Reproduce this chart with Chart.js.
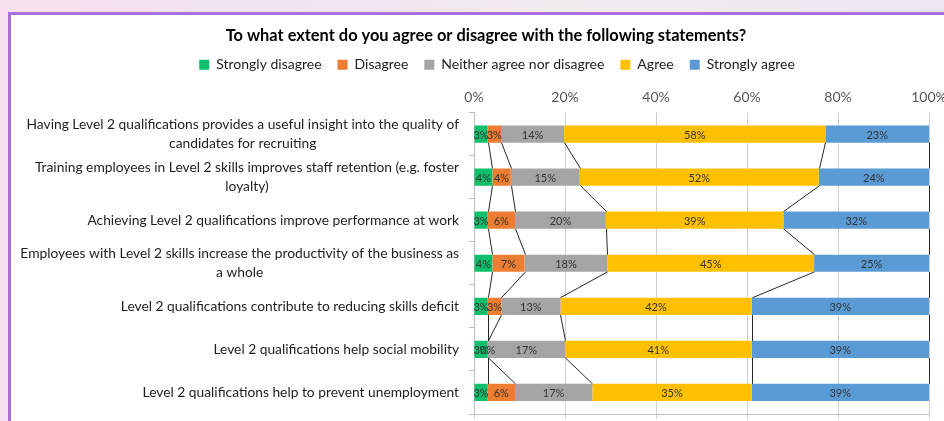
<!DOCTYPE html>
<html>
<head>
<meta charset="utf-8">
<script src="https://cdn.jsdelivr.net/npm/chart.js@4.4.1/dist/chart.umd.min.js"></script>
<style>
    html, body { margin: 0; padding: 0; }
    body {
        width: 944px;
        height: 421px;
        overflow: hidden;
        position: relative;
        background: linear-gradient(100deg, #f8e0ee 0%, #efe4f3 30%, #f3ecef 55%, #ece4f4 100%);
    }
    .card {
        position: absolute;
        left: 8px;
        top: 12px;
        width: 1000px;
        height: 500px;
        background: #fff;
        border: 3px solid #a86fdd;
    }
    .chart-box {
        position: absolute;
        left: 11px;
        top: 15px;
        width: 950px;
        height: 406px;
    }
</style>
</head>
<body>
<div class="card"></div>
<div class="chart-box"><canvas id="surveyChart"></canvas></div>
<script>
// Survey responses per statement (percent of respondents)
const categories = [
    ['Having Level 2 qualifications provides a useful insight into the quality of', 'candidates for recruiting'],
    ['Training employees in Level 2 skills improves staff retention (e.g. foster', 'loyalty)'],
    'Achieving Level 2 qualifications improve performance at work',
    ['Employees with Level 2 skills increase the productivity of the business as', 'a whole'],
    'Level 2 qualifications contribute to reducing skills deficit',
    'Level 2 qualifications help social mobility',
    'Level 2 qualifications help to prevent unemployment'
];
const seriesNames = ['Strongly disagree', 'Disagree', 'Neither agree nor disagree', 'Agree', 'Strongly agree'];
const stronglyDisagree = [3, 4, 3, 4, 3, 3, 3];
const disagree = [3, 4, 6, 7, 3, 0, 6];
const neither = [14, 15, 20, 18, 13, 17, 17];
const agree = [58, 52, 39, 45, 42, 41, 35];
const stronglyAgree = [23, 24, 32, 25, 39, 39, 39];
const percentTicks = [0, 20, 40, 60, 80, 100];
const colors = ['#0fbf6b', '#ed7d31', '#a5a5a5', '#ffc000', '#5b9bd5'];

const allSeries = [stronglyDisagree, disagree, neither, agree, stronglyAgree];

// rows don't always add up to exactly 100 because of rounding, so scale each to 100%
const rowTotals = categories.map((c, i) => allSeries.reduce((s, arr) => s + arr[i], 0));

const datasets = allSeries.map((arr, k) => ({
    label: seriesNames[k],
    data: arr.map((v, i) => v / rowTotals[i] * 100),
    raw: arr,
    backgroundColor: colors[k],
    borderWidth: 0,
    barPercentage: 0.4,
    categoryPercentage: 1
}));

// lines joining the segment ends of neighbouring bars
const seriesLines = {
    id: 'seriesLines',
    afterDatasetsDraw(chart) {
        const ctx = chart.ctx;
        ctx.save();
        ctx.strokeStyle = '#262626';
        ctx.lineWidth = 1;
        chart.data.datasets.forEach((ds, k) => {
            const bars = chart.getDatasetMeta(k).data;
            for (let i = 0; i < bars.length - 1; i++) {
                const a = bars[i], b = bars[i + 1];
                ctx.beginPath();
                ctx.moveTo(Math.round(a.x) + 0.5, a.y + a.height / 2);
                ctx.lineTo(Math.round(b.x) + 0.5, b.y - b.height / 2);
                ctx.stroke();
            }
        });
        ctx.restore();
    }
};

// value labels in the middle of each segment
const segmentLabels = {
    id: 'segmentLabels',
    afterDatasetsDraw(chart) {
        const ctx = chart.ctx;
        ctx.save();
        ctx.font = '11px Lato';
        ctx.fillStyle = '#333333';
        ctx.textAlign = 'center';
        ctx.textBaseline = 'middle';
        chart.data.datasets.forEach((ds, k) => {
            chart.getDatasetMeta(k).data.forEach((bar, i) => {
                ctx.fillText(ds.raw[i] + '%', (bar.x + bar.base) / 2, bar.y + 1);
            });
        });
        ctx.restore();
    }
};

// statement labels: block right aligned against the axis, wrapped lines centred
const statementLabels = {
    id: 'statementLabels',
    afterDraw(chart) {
        const ctx = chart.ctx;
        const yScale = chart.scales.y;
        const right = yScale.right - 15;
        ctx.save();
        ctx.font = '13.8px Lato';
        ctx.fillStyle = '#1e1e1e';
        ctx.textAlign = 'center';
        ctx.textBaseline = 'middle';
        categories.forEach((c, i) => {
            const lines = Array.isArray(c) ? c : [c];
            const widest = Math.max(...lines.map(l => ctx.measureText(l).width));
            const cx = right - widest / 2;
            const cy = yScale.getPixelForValue(i);
            lines.forEach((line, j) => {
                ctx.fillText(line, cx, cy + (j - (lines.length - 1) / 2) * 18.5);
            });
        });
        ctx.restore();
    }
};

// nudge the legend a little to the right of the title centre
const legendOffset = {
    id: 'legendOffset',
    afterLayout(chart) {
        chart.legend.left += 11;
        chart.legend.right += 11;
    }
};

const ctx = document.getElementById('surveyChart').getContext('2d');
new Chart(ctx, {
    type: 'bar',
    data: {
        labels: categories,
        datasets: datasets
    },
    plugins: [seriesLines, segmentLabels, statementLabels, legendOffset],
    options: {
        indexAxis: 'y',
        responsive: true,
        maintainAspectRatio: false,
        animation: false,
        layout: { padding: { left: 0, right: 0, top: 0, bottom: 2 } },
        plugins: {
            title: {
                display: true,
                text: 'To what extent do you agree or disagree with the following statements?',
                color: '#000',
                font: { family: 'Lato', size: 16.4, weight: 'bold' },
                padding: { top: 11, bottom: -4 }
            },
            legend: {
                position: 'top',
                labels: {
                    boxWidth: 10,
                    boxHeight: 10,
                    padding: 16,
                    color: '#1e1e1e',
                    font: { family: 'Lato', size: 14 }
                }
            },
            tooltip: { enabled: false }
        },
        scales: {
            x: {
                stacked: true,
                min: 0,
                max: 100,
                position: 'bottom',
                afterBuildTicks: s => { s.ticks = percentTicks.map(v => ({ value: v })); },
                ticks: { display: false },
                grid: { color: '#d0d0d0', lineWidth: 1, tickLength: 5 },
                border: { color: '#bfbfbf' }
            },
            xTop: {
                type: 'linear',
                min: 0,
                max: 100,
                position: 'top',
                afterBuildTicks: s => { s.ticks = percentTicks.map(v => ({ value: v })); },
                ticks: {
                    color: '#595959',
                    font: { family: 'Lato', size: 14, lineHeight: 1.06 },
                    padding: 8,
                    callback: v => v + '%'
                },
                grid: { display: false, drawTicks: false },
                border: { display: false }
            },
            y: {
                stacked: true,
                ticks: { display: false },
                grid: { drawOnChartArea: false, color: '#bfbfbf', tickLength: 5 },
                border: { color: '#bfbfbf' },
                afterFit: s => { s.width = 463; }
            },
            yRight: {
                type: 'linear',
                position: 'right',
                ticks: { display: false },
                grid: { display: false, drawTicks: false },
                border: { display: false },
                afterFit: s => { s.width = 32; }
            }
        }
    }
});
</script>
</body>
</html>
